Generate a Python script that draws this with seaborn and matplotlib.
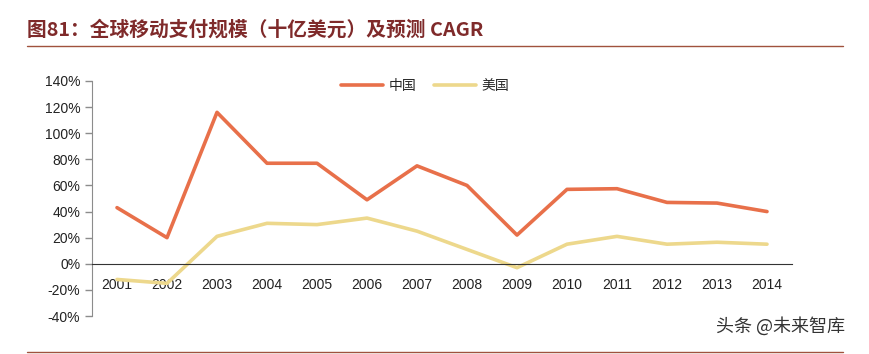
import pandas as pd
import numpy as np
import seaborn as sns
import matplotlib.pyplot as plt
from matplotlib.ticker import FixedLocator, FuncFormatter
from matplotlib.lines import Line2D

years = ["2001", "2002", "2003", "2004", "2005", "2006", "2007",
         "2008", "2009", "2010", "2011", "2012", "2013", "2014"]
china = [43, 20, 116, 77, 77, 49, 75, 60, 22, 57, 57.5, 47, 46.5, 40]
usa = [-12, -15, 21, 31, 30, 35, 25, 11, -3, 15, 21, 15, 16.5, 15]
series_names = ["中国", "美国"]
colors = ["#E8704A", "#EDD88C"]

df = pd.DataFrame({"year": years * 2,
                   "value": china + usa,
                   "country": [series_names[0]] * len(years) + [series_names[1]] * len(years)})

sns.set_style("white")
plt.rcParams['font.family'] = ['Liberation Sans', 'Noto Sans CJK SC', 'DejaVu Sans']

fig = plt.figure(figsize=(8.69, 3.54), dpi=100)
ax = fig.add_axes([92 / 869, 1 - 316 / 354, 700 / 869, 235 / 354])

sns.lineplot(data=df, x="year", y="value", hue="country", palette=colors,
             linewidth=2.6, sort=False, legend=False, ax=ax)

ax.set_xlim(-0.5, len(years) - 0.5)
ax.set_ylim(-40, 140)
ax.set_yticks(np.arange(-40, 141, 20))
ax.yaxis.set_major_formatter(FuncFormatter(lambda v, p: f"{v:.0f}%"))
ax.set_xlabel("")
ax.set_ylabel("")

# x axis at zero, ticks between categories
ax.spines["bottom"].set_position(("data", 0))
ax.spines["bottom"].set_color("#333333")
ax.spines["left"].set_color("#8c8c8c")
ax.spines["top"].set_visible(False)
ax.spines["right"].set_visible(False)
ax.xaxis.set_minor_locator(FixedLocator(np.arange(-0.5, len(years), 1.0)))
ax.tick_params(axis="x", which="major", length=0, pad=10, labelsize=10, colors="#222222")
ax.tick_params(axis="x", which="minor", direction="in", length=5, width=1, color="#333333")
ax.tick_params(axis="y", which="major", direction="out", length=5, width=1,
               color="#8c8c8c", labelsize=10, labelcolor="#222222", left=True)

handles = [Line2D([0], [0], color=c, lw=2.6) for c in colors]
fig.legend(handles, series_names, loc="center", bbox_to_anchor=(425 / 869, 1 - 86 / 354),
           ncol=2, frameon=False, fontsize=10, handlelength=3.0, columnspacing=1.3,
           handletextpad=0.4)

title_color = "#7F2A2A"
fig.text(27 / 869, 1 - 30 / 354, "图81：全球移动支付规模（十亿美元）及预测 CAGR",
         fontsize=14.2, fontweight="bold", color=title_color, va="center", ha="left",
         family=['Noto Sans CJK SC', 'DejaVu Sans'])
fig.add_artist(Line2D([27 / 869, 843 / 869], [1 - 46 / 354, 1 - 46 / 354],
                      color="#A0523D", lw=1.0))
fig.add_artist(Line2D([27 / 869, 843 / 869], [1 - 352 / 354, 1 - 352 / 354],
                      color="#A0523D", lw=1.0))
fig.text(845 / 869, 1 - 326 / 354, "头条 @未来智库", fontsize=13, color="#333333",
         ha="right", va="center", family=['Noto Sans CJK SC', 'DejaVu Sans'])

fig.savefig("out.png", dpi=100)
